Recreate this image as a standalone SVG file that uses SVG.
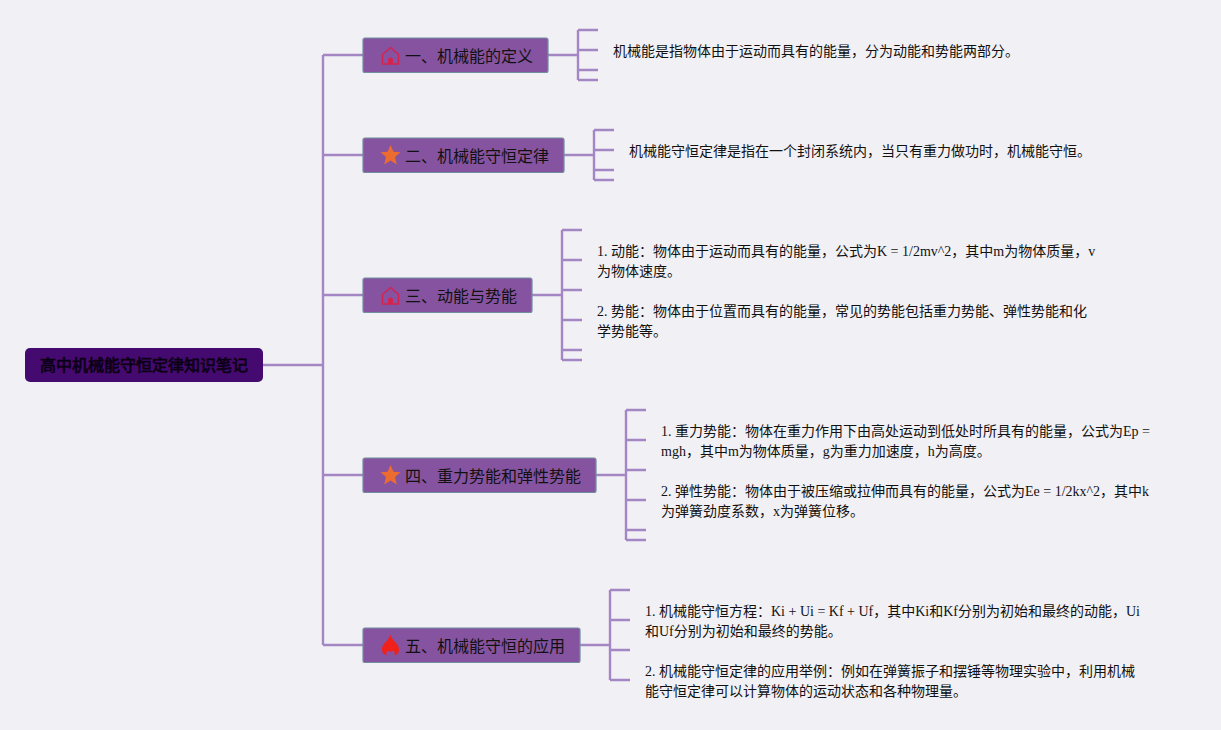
<svg xmlns="http://www.w3.org/2000/svg" width="1221" height="730" viewBox="0 0 1221 730">
<style>
text{font-family:"Liberation Serif","Noto Sans CJK SC",serif;fill:#111}
.d{font-size:14px}
.t{font-size:16px}
.r{font-size:16px;stroke:#0a0014;stroke-width:.7px;fill:#0a0014;font-family:"Noto Sans CJK SC",sans-serif}
.n{fill:#8653a0;stroke:#6f8f9f;stroke-width:1.200px}
.c{fill:none;stroke:#a586c4;stroke-width:2.400px}
</style>
<defs>
<g id="house"><path d="M-8 8V-1.500L0-8.500L8-1.500V8Z" fill="none" stroke="#d4234f" stroke-width="1.500" stroke-linejoin="round"/><path d="M-2.500 8V4A2.500 2.500 0 0 1 2.500 4V8Z" fill="#d4234f"/></g>
<polygon id="star" points="0,-10 2.900,-3.200 10,-2.800 4.500,2 6.300,9.500 0,5.500 -6.300,9.500 -4.500,2 -10,-2.800 -2.900,-3.200" fill="#ec6c30"/>
<path id="fire" d="M0-10.500C1-6 3-5 5-2.500C7-.5 8.500 2 8.500 4.500C8.500 7.500 7 9.500 4 10.500C4.500 9 4.200 7 3 5.500C2 7-2 7-3 5.500C-4.200 7-4.500 9-4 10.500C-7 9.500-8.500 7.500-8.500 4.500C-8.500 .5-6-1.500-4-4C-2.500-6-.5-8 0-10.500Z" fill="#f0201a"/>
</defs>
<rect width="1221" height="730" fill="#f1f0f5"/>
<g id="connectors">
<path class="c" d="M263 365H323M323 55V645M323 55H363M323 155H363M323 295H363M323 475H363M323 645H363"/>
<path class="c" d="M548 55H578M578 30V80M578 30H598M578 50H598M578 70H598M578 80H598"/>
<path class="c" d="M564 155H594M594 130V180M594 130H614M594 150H614M594 170H614M594 180H614"/>
<path class="c" d="M532 295H562M562 230V360M562 230H582M562 260H582M562 290H582M562 320H582M562 350H582M562 360H582"/>
<path class="c" d="M596 475H626M626 410V540M626 410H646M626 440H646M626 470H646M626 500H646M626 530H646M626 540H646"/>
<path class="c" d="M580 645H610M610 590V680M610 590H630M610 620H630M610 650H630M610 680H630"/>
</g>
<g id="root"><rect x="25" y="348" width="238" height="34" rx="5" fill="#440a70"/><text class="r" x="40" y="371">高中机械能守恒定律知识笔记</text></g>
<g id="n1"><rect class="n" x="363" y="38" width="185" height="34.500" rx="2"/><use href="#house" x="390.500" y="56"/><text class="t" x="405" y="62">一、机械能的定义</text></g>
<g id="n2"><rect class="n" x="363" y="138" width="201" height="34.500" rx="2"/><use href="#star" x="390.500" y="155"/><text class="t" x="405" y="162">二、机械能守恒定律</text></g>
<g id="n3"><rect class="n" x="363" y="278" width="169" height="34.500" rx="2"/><use href="#house" x="390.500" y="296"/><text class="t" x="405" y="302">三、动能与势能</text></g>
<g id="n4"><rect class="n" x="363" y="458" width="233" height="34.500" rx="2"/><use href="#star" x="390.500" y="475"/><text class="t" x="405" y="482">四、重力势能和弹性势能</text></g>
<g id="n5"><rect class="n" x="363" y="628" width="217" height="34.500" rx="2"/><use href="#fire" x="390.500" y="645"/><text class="t" x="405" y="652">五、机械能守恒的应用</text></g>
<g id="d1"><text class="d" x="613" y="56">机械能是指物体由于运动而具有的能量，分为动能和势能两部分。</text></g>
<g id="d2"><text class="d" x="629" y="156">机械能守恒定律是指在一个封闭系统内，当只有重力做功时，机械能守恒。</text></g>
<g id="d3"><text class="d" x="597" y="256">1. 动能：物体由于运动而具有的能量，公式为K = 1/2mv^2，其中m为物体质量，v</text><text class="d" x="597" y="276">为物体速度。</text><text class="d" x="597" y="316">2. 势能：物体由于位置而具有的能量，常见的势能包括重力势能、弹性势能和化</text><text class="d" x="597" y="336">学势能等。</text></g>
<g id="d4"><text class="d" x="661" y="436">1. 重力势能：物体在重力作用下由高处运动到低处时所具有的能量，公式为Ep =</text><text class="d" x="661" y="456">mgh，其中m为物体质量，g为重力加速度，h为高度。</text><text class="d" x="661" y="496">2. 弹性势能：物体由于被压缩或拉伸而具有的能量，公式为Ee = 1/2kx^2，其中k</text><text class="d" x="661" y="516">为弹簧劲度系数，x为弹簧位移。</text></g>
<g id="d5"><text class="d" x="645" y="616">1. 机械能守恒方程：Ki + Ui = Kf + Uf，其中Ki和Kf分别为初始和最终的动能，Ui</text><text class="d" x="645" y="636">和Uf分别为初始和最终的势能。</text><text class="d" x="645" y="676">2. 机械能守恒定律的应用举例：例如在弹簧振子和摆锤等物理实验中，利用机械</text><text class="d" x="645" y="696">能守恒定律可以计算物体的运动状态和各种物理量。</text></g>
</svg>
